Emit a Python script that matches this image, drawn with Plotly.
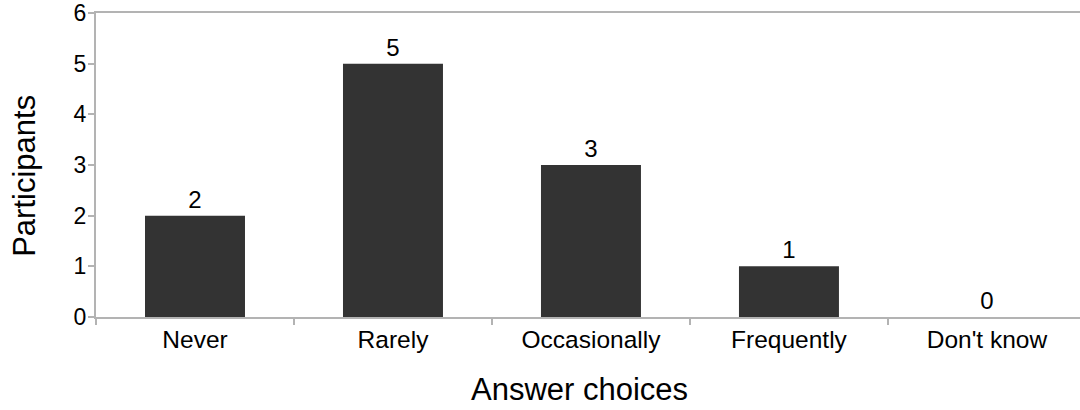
import plotly.graph_objects as go

# Survey responses per answer choice
categories = ["Never", "Rarely", "Occasionally", "Frequently", "Don't know"]
participants = [2, 5, 3, 1, 0]
y_ticks = [0, 1, 2, 3, 4, 5, 6]

FONT = "Liberation Sans, Arial, sans-serif"
AXIS_GRAY = "#b3b3b3"

fig = go.Figure(
    go.Bar(
        x=categories,
        y=participants,
        width=0.505,
        marker=dict(color="#333333", line=dict(width=0)),
        text=[str(v) for v in participants],
        textposition="outside",
        cliponaxis=False,
        textfont=dict(family=FONT, size=24, color="#000000"),
    )
)

fig.update_layout(
    width=1080,
    height=410,
    margin=dict(l=96, r=0, t=13, b=93),
    paper_bgcolor="white",
    plot_bgcolor="white",
    showlegend=False,
    font=dict(family=FONT, color="#000000"),
    uniformtext=dict(minsize=8),
)

fig.update_xaxes(
    type="category",
    range=[-0.5, 4.47],
    showgrid=False,
    showline=True,
    linecolor=AXIS_GRAY,
    linewidth=2,
    mirror=True,
    ticks="outside",
    tickson="boundaries",
    ticklen=6,
    tickwidth=2,
    tickcolor=AXIS_GRAY,
    tickfont=dict(family=FONT, size=24.5, color="#000000"),
    zeroline=False,
)

fig.update_yaxes(
    range=[0, 6],
    tickvals=y_ticks,
    showgrid=False,
    showline=True,
    linecolor=AXIS_GRAY,
    linewidth=2,
    ticks="outside",
    ticklen=6,
    tickwidth=2,
    tickcolor=AXIS_GRAY,
    ticklabelstandoff=-3,
    tickfont=dict(family=FONT, size=23, color="#000000"),
    zeroline=False,
)

# Axis titles
fig.add_annotation(
    text="Participants",
    xref="paper", yref="paper",
    x=-0.073, y=0.465,
    xanchor="center", yanchor="middle",
    textangle=-90,
    showarrow=False,
    font=dict(family=FONT, size=31, color="#000000"),
)
fig.add_annotation(
    text="Answer choices",
    xref="paper", yref="paper",
    x=0.491, y=-0.24,
    xanchor="center", yanchor="middle",
    showarrow=False,
    font=dict(family=FONT, size=31, color="#000000"),
)

fig.write_html("out.html")
